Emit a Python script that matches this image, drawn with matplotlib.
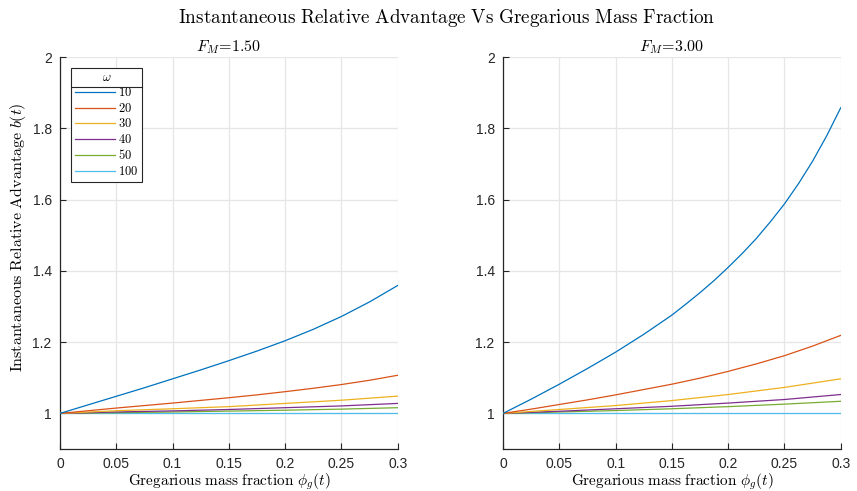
import matplotlib
matplotlib.use("Agg")
import matplotlib.pyplot as plt
from matplotlib.ticker import FuncFormatter
from matplotlib.lines import Line2D

plt.rcParams['mathtext.fontset'] = 'cm'
plt.rcParams['font.family'] = ['Liberation Sans', 'DejaVu Sans']

# ---- data ----
omegas = ["10", "20", "30", "40", "50", "100"]
colors = ["#0072BD", "#D95319", "#EDB120", "#7E2F8E", "#77AC30", "#4DBEEE"]

phi_fine = [0, 0.025, 0.05, 0.075, 0.1, 0.125, 0.15, 0.175, 0.2, 0.225, 0.25, 0.275, 0.3]
phi_coarse = [0, 0.05, 0.1, 0.15, 0.2, 0.25, 0.3]
phi_right10 = [0, 0.025, 0.05, 0.075, 0.1, 0.125, 0.15, 0.1625, 0.175, 0.1875, 0.2,
               0.2125, 0.225, 0.2375, 0.25, 0.2625, 0.275, 0.2875, 0.3]

# F_M = 1.50
left_w10 = [1.000, 1.024, 1.048, 1.072, 1.097, 1.122, 1.148, 1.175, 1.204, 1.236, 1.272, 1.313, 1.359]
left_w20 = [1.000, 1.0075, 1.015, 1.022, 1.029, 1.0365, 1.044, 1.052, 1.061, 1.0705, 1.081, 1.093, 1.107]
left_w30 = [1.000, 1.0075, 1.013, 1.019, 1.028, 1.037, 1.0485]
left_w40 = [1.000, 1.004, 1.007, 1.011, 1.016, 1.021, 1.028]
left_w50 = [1.000, 1.002, 1.004, 1.0065, 1.009, 1.012, 1.016]
left_w100 = [1.000, 1.000, 1.000, 1.000, 1.000, 1.000, 1.000]

# F_M = 3.00
right_w10 = [1.000, 1.040, 1.082, 1.126, 1.172, 1.222, 1.276, 1.307, 1.339, 1.373, 1.410,
             1.449, 1.491, 1.538, 1.588, 1.645, 1.708, 1.779, 1.858]
right_w20 = [1.000, 1.012, 1.025, 1.038, 1.052, 1.067, 1.082, 1.099, 1.118, 1.139, 1.162, 1.189, 1.219]
right_w30 = [1.000, 1.011, 1.022, 1.036, 1.053, 1.073, 1.097]
right_w40 = [1.000, 1.006, 1.013, 1.020, 1.029, 1.039, 1.053]
right_w50 = [1.000, 1.004, 1.008, 1.013, 1.019, 1.026, 1.034]
right_w100 = [1.000, 1.000, 1.000, 1.000, 1.000, 1.000, 1.000]

titles = [r'$F_M\!=\!1.50$', r'$F_M\!=\!3.00$']
xticks = [0, 0.05, 0.1, 0.15, 0.2, 0.25, 0.3]
yticks = [1, 1.2, 1.4, 1.6, 1.8, 2]

panels = [
    [(phi_fine, left_w10), (phi_fine, left_w20), (phi_coarse, left_w30),
     (phi_coarse, left_w40), (phi_coarse, left_w50), (phi_coarse, left_w100)],
    [(phi_right10, right_w10), (phi_fine, right_w20), (phi_coarse, right_w30),
     (phi_coarse, right_w40), (phi_coarse, right_w50), (phi_coarse, right_w100)],
]

fig = plt.figure(figsize=(8.57, 4.91), dpi=100)
ax_pos = [[0.070, 0.0855, 0.394, 0.798], [0.587, 0.0855, 0.394, 0.798]]
axes = []
fmt = FuncFormatter(lambda v, p: ('%g' % round(v, 4)))
for i in range(2):
    ax = fig.add_axes(ax_pos[i])
    axes.append(ax)
    for k in reversed(range(len(omegas))):
        x, y = panels[i][k]
        ax.plot(x, y, color=colors[k], lw=0.9, label=omegas[k], zorder=3 + (6 - k) * 0.1,
                solid_joinstyle='round')
    ax.set_xlim(0, 0.3)
    ax.set_ylim(0.9, 2)
    ax.set_xticks(xticks)
    ax.set_yticks(yticks)
    ax.xaxis.set_major_formatter(fmt)
    ax.yaxis.set_major_formatter(fmt)
    ax.grid(True, color='#e6e6e6', lw=0.9, zorder=0)
    ax.set_axisbelow(True)
    for s in ['top', 'right']:
        ax.spines[s].set_visible(False)
    for s in ['left', 'bottom']:
        ax.spines[s].set_color('#262626')
        ax.spines[s].set_linewidth(0.9)
    ax.tick_params(direction='in', length=4, width=0.8, colors='#262626',
                   labelsize=10, labelcolor='#262626', pad=6)
    ax.set_title(titles[i], fontsize=11.5, pad=4)
    ax.set_xlabel(r'$\mathrm{Gregarious\ mass\ fraction}\ \phi_g(t)$', fontsize=11, labelpad=0)

axes[0].set_ylabel(r'$\mathrm{Instantaneous\ Relative\ Advantage}\ b(t)$', fontsize=11.5, labelpad=4)
axes[0].yaxis.set_label_coords(-0.095, 0.54)

fig.suptitle(r'$\mathrm{Instantaneous\ Relative\ Advantage\ Vs\ Gregarious\ Mass\ Fraction}$',
             fontsize=13.8, x=0.5216, y=0.985)

handles, labels = axes[0].get_legend_handles_labels()
handles = handles[::-1]
labels = [r'$%s$' % l for l in labels[::-1]]
leg = axes[0].legend(handles, labels, loc='upper left', bbox_to_anchor=(0.0325, 0.972),
                     borderaxespad=0, title=r'$\omega$', fontsize=9, title_fontsize=9,
                     handlelength=3.2, handletextpad=0.3, labelspacing=0.2,
                     borderpad=0.3, frameon=True, fancybox=False, framealpha=1,
                     edgecolor='#262626')
leg.get_frame().set_linewidth(0.8)

fig.canvas.draw()
renderer = fig.canvas.get_renderer()
lb = leg.get_window_extent(renderer)
tb = leg.get_title().get_window_extent(renderer)
ysep = tb.y0 - 3
inv = fig.transFigure.inverted()
(x0, y0) = inv.transform((lb.x0, ysep))
(x1, _) = inv.transform((lb.x1, ysep))
fig.add_artist(Line2D([x0, x1], [y0, y0], color='#262626', lw=0.8, transform=fig.transFigure))

fig.savefig('out.png', dpi=100)
